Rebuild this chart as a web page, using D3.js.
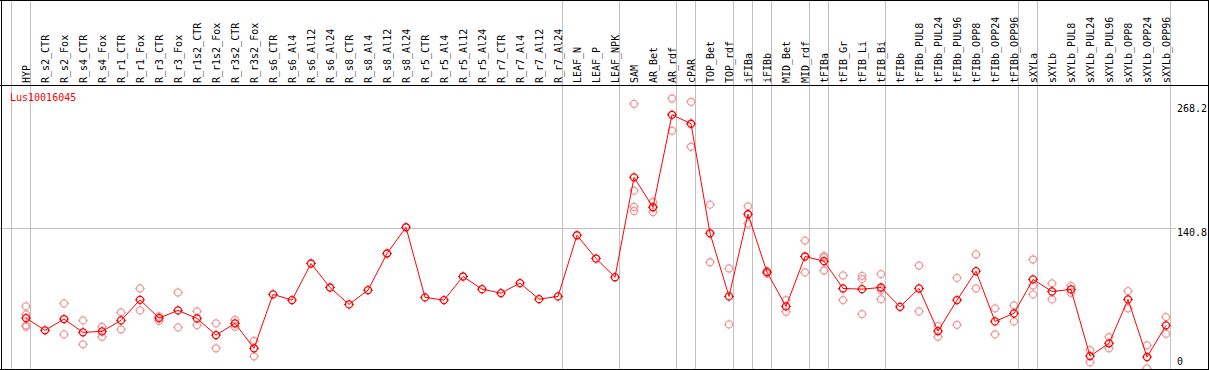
<!DOCTYPE html>
<html><head><meta charset="utf-8">
<script src="https://cdn.jsdelivr.net/npm/d3@7"></script>
<style>html,body{margin:0;padding:0;background:#fff;}svg{display:block;}</style>
</head><body>
<script>
const categories = ["HYP","R_s2_CTR","R_s2_Fox","R_s4_CTR","R_s4_Fox","R_r1_CTR","R_r1_Fox","R_r3_CTR","R_r3_Fox","R_r1s2_CTR","R_r1s2_Fox","R_r3s2_CTR","R_r3s2_Fox","R_s6_CTR","R_s6_Al4","R_s6_Al12","R_s6_Al24","R_s8_CTR","R_s8_Al4","R_s8_Al12","R_s8_Al24","R_r5_CTR","R_r5_Al4","R_r5_Al12","R_r5_Al24","R_r7_CTR","R_r7_Al4","R_r7_Al12","R_r7_Al24","LEAF_N","LEAF_P","LEAF_NPK","SAM","AR_Bet","AR_rdf","cPAR","TOP_Bet","TOP_rdf","iFIBa","iFIBb","MID_Bet","MID_rdf","tFIBa","tFIB_Gr","tFIB_Li","tFIB_Bi","tFIBb","tFIBb_PUL8","tFIBb_PUL24","tFIBb_PUL96","tFIBb_OPP8","tFIBb_OPP24","tFIBb_OPP96","sXYLa","sXYLb","sXYLb_PUL8","sXYLb_PUL24","sXYLb_PUL96","sXYLb_OPP8","sXYLb_OPP24","sXYLb_OPP96"];

const means = [48.3,35.7,47.3,33.6,34.6,45.9,67.1,48.3,56.2,48.0,30.8,42.9,17.2,72.7,66.8,104.5,79.8,62.4,77.1,114.8,141.8,69.6,66.8,91.1,78.1,74.0,84.3,67.8,70.6,133.6,109.6,90.4,193.2,162.4,257.6,248.4,135.6,70.6,155.2,95.6,60.3,111.7,106.9,78.8,78.1,79.8,59.9,78.8,34.9,66.8,96.6,44.9,53.1,88.1,75.7,77.8,9.2,22.3,67.5,8.2,40.8];

const replicates = [
  [60.3,52.1,40.8,39.4],[],[63.4,31.5],[45.9,21.3],[39.4,29.1],[54.2,36.7],[78.8,56.2],[50.0,45.5],[74.7,38.7],[55.2,41.1],
  [42.9,17.2],[46.5,39.4],[24.7,8.9],[],[],[],[],[],[],[],
  [],[],[],[],[],[],[],[],[],[],
  [],[],[268.9,179.5,162.7,158.6],[167.8,157.5],[274.4,241.2],[271.0,224.7],[165.1,105.8],[99.4,41.8],[163.4,145.6],[96.6,94.2],
  [66.8,54.8],[128.1,95.3],[112.3,110.7,97.3],[92.2,66.8],[91.8,88.4,52.4],[93.5,77.1,67.8],[],[102.4,55.2],[40.1,29.1],[89.7,41.4],
  [113.8,78.8],[58.3,31.5],[61.3,44.9],[108.6,81.9,72.7],[84.0,67.5],[81.5,74.3],[15.4,2.8],[28.8,17.2],[76.0,58.3],[20.2,-3.5],
  [49.3,32.2]
];

const groupBreaks = ["HYP","R_s2_CTR","LEAF_N","SAM","cPAR","TOP_Bet","iFIBa","iFIBb","MID_Bet","tFIBa","tFIB_Gr","tFIBb","sXYLa","sXYLb"];
const yTicks = [0, 140.8, 268.2];
const gridTicks = [140.8];
const geneLabel = "Lus10016045";

const W = 1209, H = 370;
const svg = d3.select("body").append("svg").attr("width", W).attr("height", H);
svg.append("rect").attr("width", W).attr("height", H).attr("fill", "#fff");

const x = d3.scaleBand().domain(categories).range([11, 1170]).paddingInner(0).paddingOuter(0);
const y = d3.scaleLinear().domain([0, 268.2]).range([365, 104.5]);
const px = c => x(c) + 15;
const font = "'DejaVu Sans Mono', monospace";

// horizontal grid
svg.selectAll("line.grid").data(gridTicks).join("line")
  .attr("x1", 0).attr("x2", 1176)
  .attr("y1", d => Math.round(y(d)) + 0.5).attr("y2", d => Math.round(y(d)) + 0.5)
  .attr("stroke", "#c0c0c0").attr("stroke-width", 1);

// vertical group separators
const sepX = groupBreaks.map(c => x(c)).concat([x(categories[categories.length-1]) + x.bandwidth()]);
svg.selectAll("line.sep").data(sepX).join("line")
  .attr("x1", d => Math.round(d) + 0.5).attr("x2", d => Math.round(d) + 0.5)
  .attr("y1", 0).attr("y2", H)
  .attr("stroke", "#c0c0c0").attr("stroke-width", 1);

function marker(g, color) {
  g.append("circle").attr("r", 3.5).attr("fill", "none").attr("stroke", color).attr("stroke-width", 1.3);
  const t = [[0,-3.5,0,-5],[0,3.5,0,5],[-3.5,0,-5,0],[3.5,0,5,0]];
  t.forEach(s => g.append("line").attr("x1", s[0]).attr("y1", s[1]).attr("x2", s[2]).attr("y2", s[3])
    .attr("stroke", color).attr("stroke-width", 1));
}

// replicate points
const repData = [];
categories.forEach((c, i) => replicates[i].forEach(v => repData.push({c, v})));
svg.append("g").selectAll("g").data(repData).join("g")
  .attr("transform", d => `translate(${px(d.c)},${y(d.v)})`)
  .each(function(){ marker(d3.select(this), "#f09a9a"); });

// mean line
const line = d3.line().x((d, i) => px(categories[i])).y(d => y(d));
svg.append("path").datum(means).attr("d", line).attr("fill", "none").attr("stroke", "#ff0000").attr("stroke-width", 1);

// mean points
svg.append("g").selectAll("g").data(means).join("g")
  .attr("transform", (d, i) => `translate(${px(categories[i])},${y(d)})`)
  .each(function(){ marker(d3.select(this), "#ff0000"); });

// white out the strip right of plot for labels area? (labels drawn over)
// y labels
svg.selectAll("text.yt").data(yTicks).join("text")
  .attr("x", 1177)
  .attr("y", d => d === 0 ? y(d) : y(d) + 7.5)
  .attr("font-family", font).attr("font-size", 10).attr("fill", "#000")
  .text(d => d);

// category labels
svg.selectAll("text.cat").data(categories).join("text")
  .attr("transform", c => `translate(${px(c) + 3.5},83) rotate(-90)`)
  .attr("font-family", font).attr("font-size", 10).attr("fill", "#000")
  .text(c => c);

// gene label
svg.append("text").attr("x", 10).attr("y", 100.5)
  .attr("font-family", font).attr("font-size", 10).attr("fill", "#ff0000").text(geneLabel);

// borders
const bl = [[0,0.5,W,0.5],[1.5,0,1.5,H],[1208.5,0,1208.5,H],[0,369.5,W,369.5],[0,85.5,W,85.5]];
svg.selectAll("line.border").data(bl).join("line")
  .attr("x1", d => d[0]).attr("y1", d => d[1]).attr("x2", d => d[2]).attr("y2", d => d[3])
  .attr("stroke", "#000").attr("stroke-width", 1);
</script>
</body></html>
